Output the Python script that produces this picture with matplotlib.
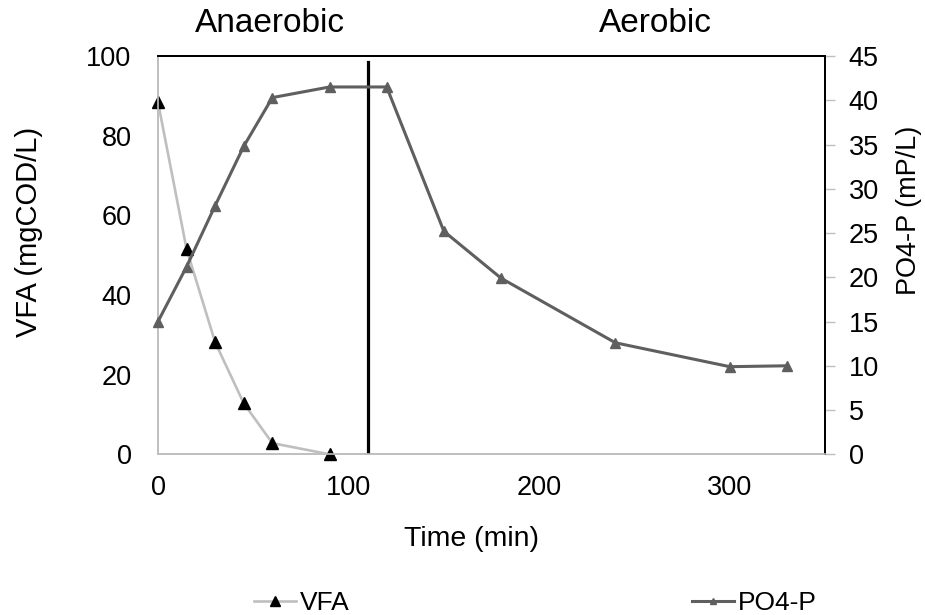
import matplotlib
matplotlib.use("Agg")
import matplotlib.pyplot as plt
from matplotlib.lines import Line2D

plt.rcParams['font.family'] = ['Liberation Sans', 'DejaVu Sans']

# Data
vfa_time = [0, 15, 30, 45, 60, 90]
vfa_values = [88.4, 51.5, 28.1, 12.8, 2.8, 0.0]
po4_time = [0, 15, 30, 45, 60, 90, 120, 150, 180, 240, 300, 330]
po4_values = [15.0, 21.2, 28.1, 34.8, 40.3, 41.5, 41.5, 25.2, 19.9, 12.6, 9.9, 10.0]
phase_switch = 110
x_ticks = [0, 100, 200, 300]
left_ticks = [0, 20, 40, 60, 80, 100]
right_ticks = [0, 5, 10, 15, 20, 25, 30, 35, 40, 45]

VFA_LINE = '#BFBFBF'
PO4_COL = '#5F5F5F'
SPINE_GRAY = '#BFBFBF'

fig = plt.figure(figsize=(9.25, 6.15), dpi=100)
ax = fig.add_axes([158/925, 1-454.3/615, (825-158)/925, (454.3-56)/615])
ax2 = ax.twinx()

ax.plot(vfa_time, vfa_values, color=VFA_LINE, lw=1.9, marker='^', ms=9,
        mfc='black', mec='black', zorder=3, clip_on=False)
ax2.plot(po4_time, po4_values, color=PO4_COL, lw=2.2, marker='^', ms=7,
         mfc=PO4_COL, mec=PO4_COL, zorder=3, clip_on=False)
ax.axvline(phase_switch, ymin=0, ymax=0.985, color='black', lw=2.3, zorder=4)

ax.set_xlim(0, 350)
ax.set_ylim(0, 100)
ax2.set_ylim(0, 45)
ax.set_xticks(x_ticks)
ax.set_yticks(left_ticks)
ax2.set_yticks(right_ticks)

ax.tick_params(axis='x', length=0, pad=15, labelsize=19.5)
ax.tick_params(axis='y', length=0, pad=19, labelsize=19.5)
ax2.tick_params(axis='y', length=7, width=1, color=SPINE_GRAY, direction='out',
                pad=10, labelsize=19.5)

for a in (ax, ax2):
    a.spines['left'].set_color(SPINE_GRAY)
    a.spines['bottom'].set_color(SPINE_GRAY)
    a.spines['left'].set_linewidth(1.2)
    a.spines['bottom'].set_linewidth(1.2)
    a.spines['top'].set_color('black')
    a.spines['top'].set_linewidth(1.4)
    a.spines['right'].set_color('black')
    a.spines['right'].set_linewidth(1.4)

ax.set_xlabel('Time (min)', fontsize=20.5)
ax.xaxis.label.set_va('center')
ax.xaxis.label.set_ha('center')
ax.xaxis.set_label_coords((472-158)/667, (454.3-539)/398.3)

ax.set_ylabel('VFA (mgCOD/L)', fontsize=21)
ax.yaxis.label.set_va('center')
ax.yaxis.set_label_coords((29-158)/667, (454.3-232)/398.3)
ax2.set_ylabel('PO4-P (mP/L)', fontsize=19.5)
ax2.yaxis.label.set_va('center')
ax2.yaxis.set_label_coords((909-158)/667, (454.3-210)/398.3)

fig.text(270/925, 1-24/615, 'Anaerobic', fontsize=24, ha='center', va='center')
fig.text(655/925, 1-24/615, 'Aerobic', fontsize=24, ha='center', va='center')

h1 = Line2D([], [], color=VFA_LINE, lw=1.9, marker='^', ms=7, mfc='black', mec='black')
h2 = Line2D([], [], color=PO4_COL, lw=2.2, marker='^', ms=5, mfc=PO4_COL, mec=PO4_COL)
fig.legend([h1], ['VFA'], loc='center left', bbox_to_anchor=(254/925, 1-603/615),
           frameon=False, fontsize=19, handlelength=1.6, handletextpad=0.15,
           borderpad=0, borderaxespad=0)
fig.legend([h2], ['PO4-P'], loc='center left', bbox_to_anchor=(692/925, 1-603/615),
           frameon=False, fontsize=19, handlelength=1.6, handletextpad=0.15,
           borderpad=0, borderaxespad=0)

fig.savefig('out.png', dpi=100)
